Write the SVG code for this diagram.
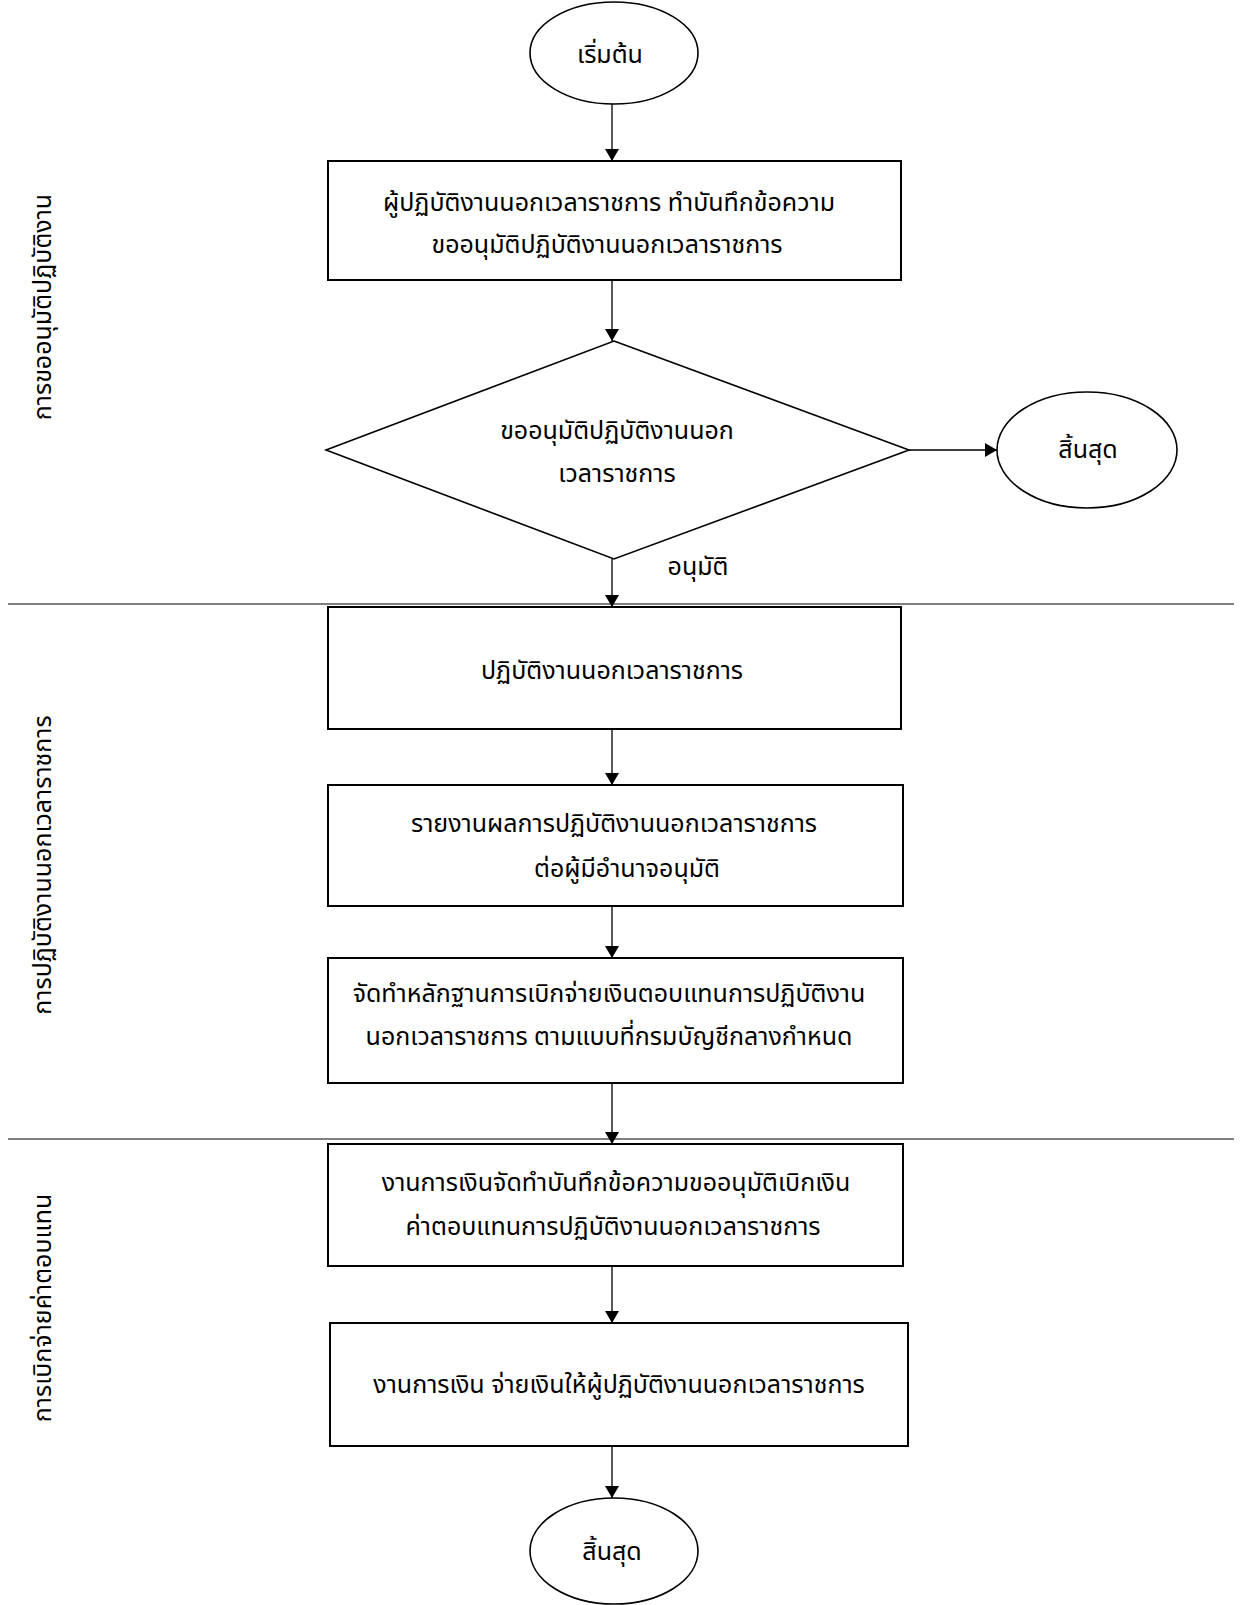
<svg xmlns="http://www.w3.org/2000/svg" width="1243" height="1605" viewBox="0 0 1243 1605">
<style>
text{font-family:"Noto Sans Thai","Noto Sans","DejaVu Sans",sans-serif;font-size:25px;fill:#000;text-anchor:middle}
.box{fill:#fff;stroke:#000;stroke-width:2}
.shape{fill:#fff;stroke:#000;stroke-width:1.6}
.conn{stroke:#000;stroke-width:1.3;fill:none}
.sep{stroke:#000;stroke-width:1}
</style>
<defs>
<marker id="arr" viewBox="0 0 12 14" refX="12" refY="7" markerWidth="12" markerHeight="14" markerUnits="userSpaceOnUse" orient="auto">
<path d="M0,0 L12,7 L0,14 Z" fill="#000"/>
</marker>
</defs>
<rect width="1243" height="1605" fill="#fff"/>
<g id="lanes">
<line class="sep" x1="8" y1="604" x2="1234" y2="604"/>
<line class="sep" x1="8" y1="1139" x2="1234" y2="1139"/>
<text transform="translate(51,307) rotate(-90)">การขออนุมัติปฏิบัติงาน</text>
<text transform="translate(51,865) rotate(-90)">การปฏิบัติงานนอกเวลาราชการ</text>
<text transform="translate(51,1308) rotate(-90)">การเบิกจ่ายค่าตอบแทน</text>
</g>
<g id="connectors">
<line class="conn" x1="612" y1="104" x2="612" y2="161" marker-end="url(#arr)"/>
<line class="conn" x1="612" y1="280" x2="612" y2="341" marker-end="url(#arr)"/>
<line class="conn" x1="909" y1="450" x2="997" y2="450" marker-end="url(#arr)"/>
<line class="conn" x1="612" y1="559" x2="612" y2="607" marker-end="url(#arr)"/>
<line class="conn" x1="612" y1="729" x2="612" y2="785" marker-end="url(#arr)"/>
<line class="conn" x1="612" y1="906" x2="612" y2="958" marker-end="url(#arr)"/>
<line class="conn" x1="612" y1="1083" x2="612" y2="1144" marker-end="url(#arr)"/>
<line class="conn" x1="612" y1="1266" x2="612" y2="1323" marker-end="url(#arr)"/>
<line class="conn" x1="612" y1="1446" x2="612" y2="1498" marker-end="url(#arr)"/>
<text x="698" y="575">อนุมัติ</text>
</g>
<g id="start">
<ellipse class="shape" cx="614" cy="53" rx="84" ry="51"/>
<text x="610" y="63">เริ่มต้น</text>
</g>
<g id="request-memo">
<rect class="box" x="328" y="161" width="573" height="119"/>
<text x="609" y="211">ผู้ปฏิบัติงานนอกเวลาราชการ ทำบันทึกข้อความ</text>
<text x="607" y="253">ขออนุมัติปฏิบัติงานนอกเวลาราชการ</text>
</g>
<g id="decision">
<polygon class="shape" points="614,341 909,450 614,559 326,450"/>
<text x="617" y="439">ขออนุมัติปฏิบัติงานนอก</text>
<text x="617" y="482">เวลาราชการ</text>
</g>
<g id="end-rejected">
<ellipse class="shape" cx="1087" cy="450" rx="90" ry="58"/>
<text x="1088" y="458">สิ้นสุด</text>
</g>
<g id="perform">
<rect class="box" x="328" y="607" width="573" height="122"/>
<text x="612" y="679">ปฏิบัติงานนอกเวลาราชการ</text>
</g>
<g id="report">
<rect class="box" x="328" y="785" width="575" height="121"/>
<text x="614" y="832">รายงานผลการปฏิบัติงานนอกเวลาราชการ</text>
<text x="627" y="877">ต่อผู้มีอำนาจอนุมัติ</text>
</g>
<g id="evidence">
<rect class="box" x="328" y="958" width="575" height="125"/>
<text x="609" y="1002">จัดทำหลักฐานการเบิกจ่ายเงินตอบแทนการปฏิบัติงาน</text>
<text x="609" y="1045">นอกเวลาราชการ ตามแบบที่กรมบัญชีกลางกำหนด</text>
</g>
<g id="finance-memo">
<rect class="box" x="328" y="1144" width="575" height="122"/>
<text x="616" y="1191">งานการเงินจัดทำบันทึกข้อความขออนุมัติเบิกเงิน</text>
<text x="613" y="1235">ค่าตอบแทนการปฏิบัติงานนอกเวลาราชการ</text>
</g>
<g id="pay">
<rect class="box" x="330" y="1323" width="578" height="123"/>
<text x="619" y="1393">งานการเงิน จ่ายเงินให้ผู้ปฏิบัติงานนอกเวลาราชการ</text>
</g>
<g id="end">
<ellipse class="shape" cx="614" cy="1551" rx="84" ry="53"/>
<text x="612" y="1560">สิ้นสุด</text>
</g>
</svg>
